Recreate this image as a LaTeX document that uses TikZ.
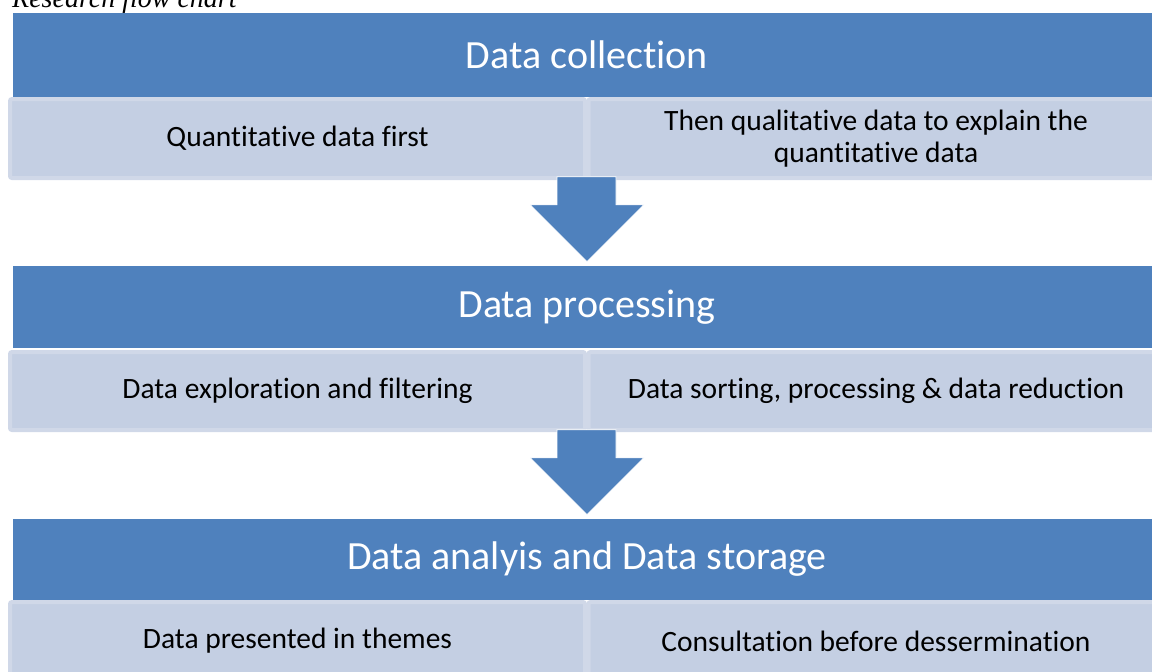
\documentclass[tikz,border=0pt]{standalone}
\usepackage{fontspec}
\setmainfont[Ligatures=NoCommon]{Carlito}
\newfontfamily\titlefont{Liberation Serif}
\usetikzlibrary{calc}
\definecolor{hdrblue}{HTML}{4F81BD}
\definecolor{subfill}{HTML}{C4CFE3}
\definecolor{subedge}{HTML}{D0D8E8}
\tikzset{
  header/.style={fill=hdrblue, draw=none, minimum width=1148pt, minimum height=84pt,
    text=white, font=\fontsize{40}{46}\selectfont, inner sep=0pt},
  subbox/.style={fill=subfill, draw=subedge, line width=4pt, rounded corners=2pt,
    minimum width=575pt, minimum height=79pt, align=center, text=black,
    font=\fontsize{29.5}{31.5}\selectfont, inner sep=0pt},
  bigarrow/.style={fill=hdrblue, draw=white, line width=0.8pt, line join=miter},
}
\begin{document}
\begin{tikzpicture}[x=1pt,y=-1pt]
\useasboundingbox (0,0) rectangle (1152,672);
\clip (0,0) rectangle (1152,672);
% title (cut off at top)
\node[anchor=base west, inner sep=0pt, font=\titlefont\itshape\fontsize{28}{32}\selectfont] (title) at (12,7) {Research flow chart};
% row 1
\node[header] (h1) at (587,55) {Data collection};
\node[subbox] (b1l) at (297.5,138.5) {Quantitative data first};
\node[subbox] (b1r) at (876,138.5) {Then qualitative data to explain the\\quantitative data};
% row 2
\node[header, minimum height=82pt] (h2) at (587,307) {Data processing};
\node[subbox, minimum height=78pt] (b2l) at (297.5,391) {Data exploration and filtering};
\node[subbox, minimum height=78pt] (b2r) at (876,391) {Data sorting, processing \& data reduction};
% row 3
\node[header, minimum height=81pt] (h3) at (587,559.5) {Data analyis and Data storage};
\node[subbox, minimum height=78pt] (b3l) at (297.5,641) {Data presented in themes};
\node[subbox, minimum height=78pt] (b3r) at (876,641) {Consultation before dessermination};
% arrows
\draw[bigarrow] ($(h2.north)+(0,-4)$) -- ++(57,-57) -- ++(-28,0) -- ++(0,-28) -- ++(-59,0) -- ++(0,28) -- ++(-27,0) -- cycle;
\draw[bigarrow] ($(h3.north)+(0,-4)$) -- ++(57,-57) -- ++(-28,0) -- ++(0,-28) -- ++(-59,0) -- ++(0,28) -- ++(-27,0) -- cycle;
\end{tikzpicture}
\end{document}
